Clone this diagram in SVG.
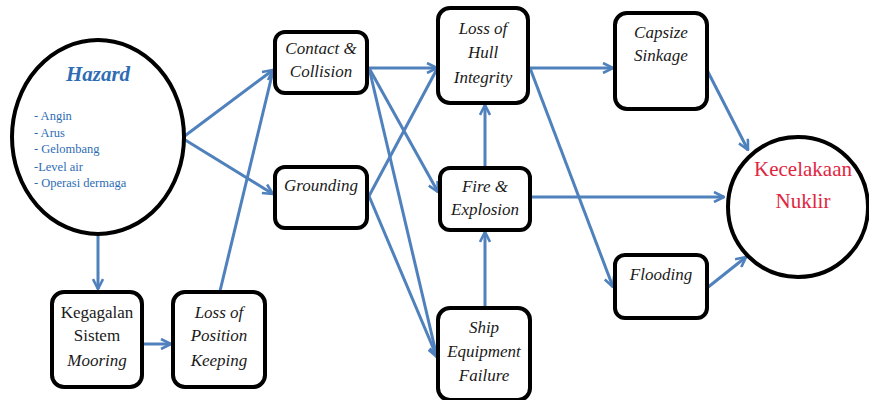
<svg xmlns="http://www.w3.org/2000/svg" width="869" height="400" viewBox="0 0 869 400">
<defs>
<marker id="ah" viewBox="0 0 12 12" refX="11" refY="6" markerWidth="12" markerHeight="12" markerUnits="userSpaceOnUse" orient="auto">
<path d="M1,1 L11,6 L1,11" fill="none" stroke="#4f81bd" stroke-width="2.6"/>
</marker>
<style>
.box{fill:#fff;stroke:#000;stroke-width:4;}
.t{font-family:'Liberation Serif','Times New Roman',serif;font-size:17px;fill:#1a1a1a;text-anchor:middle;}
.i{font-style:italic;}
.hz{font-family:'Liberation Serif','Times New Roman',serif;fill:#2e6db4;}
.k{font-family:'Liberation Serif','Times New Roman',serif;font-size:21px;fill:#e0263f;text-anchor:middle;}
.c{stroke:#4f81bd;stroke-width:3;fill:none;marker-end:url(#ah);}
.cn{stroke:#4f81bd;stroke-width:3;fill:none;}
</style>
</defs>
<rect width="869" height="400" fill="#fff"/>
<g id="connectors">
<line class="c" x1="98" y1="236" x2="98" y2="289"/>
<line class="c" x1="182" y1="138" x2="273" y2="70"/>
<line class="c" x1="182" y1="138" x2="273" y2="194"/>
<line class="c" x1="144" y1="344" x2="171" y2="344"/>
<line class="cn" x1="220" y1="291" x2="273" y2="71"/>
<line class="c" x1="369" y1="68" x2="437" y2="68"/>
<line class="c" x1="369" y1="68" x2="438" y2="192"/>
<line class="c" x1="369" y1="68" x2="437" y2="357"/>
<line class="cn" x1="369" y1="196" x2="437" y2="69"/>
<line class="c" x1="369" y1="196" x2="437" y2="357"/>
<line class="c" x1="485" y1="166" x2="485" y2="105"/>
<line class="c" x1="485" y1="306" x2="485" y2="232"/>
<line class="c" x1="530" y1="68" x2="613" y2="68"/>
<line class="c" x1="530" y1="68" x2="613" y2="287"/>
<line class="c" x1="532" y1="197" x2="724" y2="197"/>
<line class="c" x1="707" y1="70" x2="748" y2="150"/>
<line class="c" x1="707" y1="288" x2="746" y2="257"/>
</g>
<g id="hazard">
<ellipse cx="98" cy="137" rx="86" ry="97" fill="#fff" stroke="#000" stroke-width="4"/>
<text class="hz" x="98" y="81" font-size="21" font-style="italic" font-weight="bold" text-anchor="middle">Hazard</text>
<text class="hz" font-size="12.5">
<tspan x="34" y="120">- Angin</tspan>
<tspan x="34" y="137">- Arus</tspan>
<tspan x="34" y="153">- Gelombang</tspan>
<tspan x="34" y="171">-Level air</tspan>
<tspan x="34" y="187">- Operasi dermaga</tspan>
</text>
</g>
<g id="contact">
<rect class="box" x="275" y="32" width="92" height="61" rx="10"/>
<text class="t i"><tspan x="321" y="54">Contact &amp;</tspan><tspan x="321" y="77">Collision</tspan></text>
</g>
<g id="grounding">
<rect class="box" x="275" y="167" width="92" height="61" rx="10"/>
<text class="t i" x="321" y="191">Grounding</text>
</g>
<g id="hull">
<rect class="box" x="438" y="8" width="90" height="95" rx="12"/>
<text class="t i"><tspan x="483" y="34">Loss of</tspan><tspan x="483" y="58">Hull</tspan><tspan x="483" y="83">Integrity</tspan></text>
</g>
<g id="fire">
<rect class="box" x="440" y="168" width="90" height="62" rx="10"/>
<text class="t i"><tspan x="485" y="192">Fire &amp;</tspan><tspan x="485" y="215">Explosion</tspan></text>
</g>
<g id="ship">
<rect class="box" x="438" y="308" width="92" height="92" rx="12"/>
<text class="t i"><tspan x="484" y="333">Ship</tspan><tspan x="484" y="357">Equipment</tspan><tspan x="484" y="381">Failure</tspan></text>
</g>
<g id="capsize">
<rect class="box" x="615" y="13" width="92" height="96" rx="12"/>
<text class="t i"><tspan x="661" y="38">Capsize</tspan><tspan x="661" y="61">Sinkage</tspan></text>
</g>
<g id="flooding">
<rect class="box" x="615" y="255" width="92" height="63" rx="10"/>
<text class="t i" x="661" y="280">Flooding</text>
</g>
<g id="kecelakaan">
<ellipse cx="798" cy="207" rx="70" ry="70" fill="#fff" stroke="#000" stroke-width="4"/>
<text class="k"><tspan x="803" y="176">Kecelakaan</tspan><tspan x="803" y="208">Nuklir</tspan></text>
</g>
<g id="mooring">
<rect class="box" x="52" y="292" width="90" height="95" rx="12"/>
<text class="t"><tspan x="97" y="318">Kegagalan</tspan><tspan x="97" y="341">Sistem</tspan><tspan x="97" y="366" font-style="italic">Mooring</tspan></text>
</g>
<g id="position">
<rect class="box" x="173" y="292" width="92" height="95" rx="12"/>
<text class="t i"><tspan x="219" y="318">Loss of</tspan><tspan x="219" y="341">Position</tspan><tspan x="219" y="366">Keeping</tspan></text>
</g>
</svg>
